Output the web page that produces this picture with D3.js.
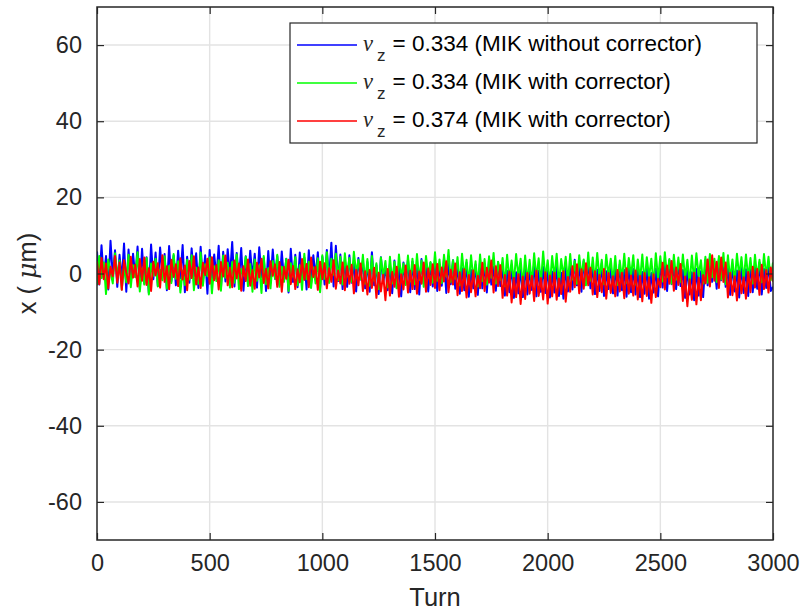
<!DOCTYPE html>
<html>
<head>
<meta charset="utf-8">
<script src="https://cdn.jsdelivr.net/npm/d3@7"></script>
<style>
  html, body { margin: 0; padding: 0; background: #fff; }
  svg { display: block; font-family: "Liberation Sans", Arial, Helvetica, sans-serif; }
</style>
</head>
<body>
<svg id="chart" width="801" height="613"></svg>
<script>
// Horizontal orbit x (um) sampled every 10 turns, turns 0..3000
const turnStep = 10;

const xTicks = [0, 500, 1000, 1500, 2000, 2500, 3000];
const yTicks = [-60, -40, -20, 0, 20, 40, 60];

const seriesNames = [
  { nu: "0.334", note: "(MIK without corrector)" },
  { nu: "0.334", note: "(MIK with corrector)" },
  { nu: "0.374", note: "(MIK with corrector)" }
];
const seriesColors = ["#0000ff", "#00ff00", "#ff0000"];

const blueValues = [
  5.8,-2.9,7.4,-1.3,4.6,-4.2,8.6,-0.6,6.1,-3.5,
  4.9,-1.8,7.9,-4.8,6.3,-2.2,5.2,-0.9,7.1,-3.9,
  6.5,-2.6,4.3,-5.1,7.6,-1.5,5.5,-3.3,6.8,-0.4,
  5.1,-4.4,7.2,-2.0,4.7,-3.1,6.0,-1.2,7.5,-4.9,
  4.4,-2.4,6.6,-0.7,5.3,-3.8,7.0,-1.9,4.8,-5.3,
  6.2,-2.8,5.0,-1.0,7.3,-4.0,5.7,-2.1,6.4,-0.8,
  8.3,-3.4,5.4,-1.6,6.7,-4.5,4.5,-2.3,6.0,-1.1,
  5.2,-3.7,6.9,-0.9,4.1,-4.6,5.9,-2.5,6.3,-1.4,
  4.6,-3.0,5.8,-1.8,3.9,-5.0,6.5,-2.2,4.9,-3.6,
  5.5,-1.5,4.2,-4.2,6.1,-2.7,4.8,-0.8,5.6,-3.9,
  4.4,-2.9,6.2,-1.7,8.1,-3.4,7.3,-2.0,5.0,-4.1,
  3.6,-3.5,4.8,-2.4,2.9,-4.7,4.1,-1.6,3.3,-3.9,
  3.0,-4.8,5.6,-3.1,2.2,-5.4,4.3,-2.5,1.8,-4.4,
  2.5,-5.2,3.4,-3.8,1.6,-6.0,2.9,-2.7,3.6,-4.9,
  3.1,-4.1,2.4,-5.5,3.8,-2.6,1.9,-4.7,2.8,-3.4,
  3.3,-4.6,2.0,-3.2,3.9,-5.1,2.6,-2.8,3.5,-4.0,
  2.1,-5.3,1.4,-4.4,2.8,-6.1,0.9,-3.9,2.3,-5.6,
  3.4,-3.9,2.5,-5.0,3.7,-2.9,1.8,-4.5,3.0,-3.3,
  1.6,-5.8,0.7,-4.9,2.2,-6.4,0.3,-5.2,1.4,-6.2,
  2.0,-5.5,1.1,-4.3,2.6,-6.0,0.8,-4.8,1.7,-5.1,
  1.3,-6.3,0.5,-5.0,2.0,-5.9,0.2,-6.6,1.5,-4.7,
  2.9,-4.2,3.6,-3.1,2.2,-4.8,3.3,-2.6,2.7,-3.9,
  2.1,-5.4,1.0,-4.6,2.7,-5.9,0.6,-4.1,1.8,-5.2,
  1.5,-5.8,2.4,-4.4,0.9,-6.1,2.0,-4.9,1.2,-5.5,
  1.0,-6.2,0.4,-5.3,1.7,-6.6,0.1,-5.0,1.3,-6.0,
  3.2,-3.7,2.4,-4.6,3.5,-2.8,1.9,-4.1,2.8,-3.3,
  0.9,-6.4,1.6,-5.5,0.3,-7.0,1.2,-5.8,0.6,-6.2,
  3.7,-3.1,4.4,-2.2,2.8,-4.0,3.9,-1.8,3.3,-3.5,
  1.4,-5.6,2.2,-4.7,0.8,-6.3,1.9,-5.1,1.1,-5.9,
  2.5,-4.9,1.6,-4.0,2.9,-5.5,1.2,-3.8,2.3,-4.6,
  -3.5
];

const greenValues = [
  -3.1,4.6,-1.2,2.9,-5.4,3.7,0.4,-2.6,5.3,-0.9,
  3.4,-4.2,1.7,-2.3,4.9,-3.6,2.2,-1.0,5.6,-4.7,
  1.3,-2.9,4.1,-5.5,2.6,-0.6,3.9,-3.4,1.0,-1.8,
  4.5,-4.0,2.0,-2.5,5.1,-1.4,3.2,-5.0,0.8,-3.0,
  3.6,-1.6,4.8,-4.4,1.5,-2.7,5.5,-3.2,2.4,-0.7,
  4.2,-5.2,1.9,-2.0,3.5,-4.5,4.7,-1.1,2.8,-3.7,
  3.0,-2.4,5.0,-4.1,1.2,-0.5,4.4,-3.3,2.5,-4.8,
  3.7,-1.9,2.1,-5.1,4.6,-2.8,1.4,-3.9,3.3,-1.3,
  4.9,-3.5,1.8,-2.2,3.8,-4.6,2.7,-0.8,4.3,-3.1,
  2.2,-4.3,5.2,-1.5,3.1,-3.8,1.6,-2.6,4.0,-4.9,
  4.8,-1.4,5.6,-2.5,3.9,-0.3,5.2,-1.8,4.4,-2.9,
  5.3,-0.8,4.1,-2.2,5.7,0.1,3.6,-1.5,4.9,-2.7,
  3.8,-3.2,4.6,-1.9,2.7,-4.1,4.2,-0.9,3.3,-3.6,
  4.4,-2.6,3.1,-3.9,5.0,-1.2,2.6,-3.0,4.7,-2.1,
  3.9,-2.8,5.1,-1.7,3.4,-3.5,4.6,-0.6,3.0,-2.4,
  5.6,-1.9,3.7,-2.5,4.9,-0.7,6.2,-2.2,3.5,-1.4,
  4.3,-3.1,5.2,-1.0,3.6,-2.7,4.8,-1.6,3.2,-3.4,
  5.0,-2.0,3.8,-2.9,4.5,-1.1,5.4,-2.6,3.1,-1.7,
  4.1,-3.3,4.9,-1.8,3.4,-2.5,5.1,-0.9,3.9,-3.6,
  4.7,-2.2,3.6,-3.0,5.3,-1.3,4.0,-2.8,5.8,-1.5,
  3.5,-2.9,4.6,-1.2,5.2,-3.2,3.8,-0.8,4.4,-2.4,
  5.1,-1.6,3.3,-2.7,4.8,-0.9,3.7,-3.1,5.5,-1.9,
  4.2,-2.3,5.4,-1.4,3.6,-2.8,4.9,-0.6,3.9,-2.5,
  4.6,-3.0,3.4,-1.7,5.2,-2.4,4.1,-0.8,4.8,-2.9,
  3.7,-1.8,5.0,-2.6,4.3,-1.1,3.9,-3.2,5.3,-1.5,
  4.5,-2.1,5.6,-0.9,3.8,-2.7,4.9,-1.6,4.2,-2.2,
  5.0,-1.3,3.6,-2.9,4.7,-1.9,5.3,-0.7,3.5,-2.6,
  4.4,-2.4,5.1,-1.0,3.9,-2.2,4.6,-1.6,5.4,-2.8,
  4.8,-1.7,3.7,-2.5,5.2,-0.8,4.3,-2.1,5.0,-1.4,
  4.1,-2.6,4.9,-1.2,3.6,-2.3,5.1,-0.9,4.4,-1.8,
  2.9
];

const redValues = [
  3.2,-2.8,4.1,-1.5,2.6,-3.9,1.8,-0.7,4.6,-2.4,
  2.9,-4.3,3.5,0.2,-2.6,4.4,-1.1,2.3,-3.4,3.8,
  -1.9,4.2,-3.0,1.4,-4.6,3.1,-0.5,2.7,-3.7,4.8,
  -2.2,1.9,-4.1,3.6,-0.9,2.4,-3.3,4.0,-1.6,2.1,
  -4.4,3.3,-1.2,4.5,-2.9,1.6,-3.8,2.8,-0.4,3.9,
  -2.7,4.3,-1.8,2.2,-4.2,3.0,-0.8,4.7,-3.1,1.5,
  -3.6,3.4,-1.3,2.6,-4.5,1.9,-2.0,3.7,-3.2,0.9,
  -4.0,2.8,-1.0,3.9,-2.5,1.2,-3.9,3.2,-0.6,2.4,
  -3.5,3.0,-4.8,1.7,-1.4,3.6,-2.8,2.0,-4.1,1.1,
  -2.3,3.8,-1.7,2.5,-3.6,4.2,-0.9,1.8,-4.3,3.1,
  -1.5,2.7,-3.9,1.4,-2.2,3.5,-4.0,0.8,-2.6,2.9,
  -4.4,1.9,-2.7,2.3,-5.2,1.0,-3.1,2.6,-4.6,0.6,
  -5.5,0.9,-3.8,1.5,-6.4,0.2,-4.7,-0.3,-7.0,1.2,
  -5.8,0.4,-3.5,1.8,-6.1,-0.2,-4.2,2.1,-5.0,0.7,
  -4.1,2.2,-5.3,0.5,-2.7,2.9,-4.8,1.3,-3.0,2.4,
  -3.8,2.5,-4.4,1.6,-2.1,3.2,-4.9,1.0,-2.9,2.6,
  -5.7,0.3,-4.6,1.1,-6.3,-0.4,-4.9,0.8,-6.0,-0.6,
  -3.9,2.8,-4.6,1.5,-2.4,3.4,-5.0,1.9,-3.3,2.2,
  -6.4,-0.4,-5.8,0.5,-7.6,-1.1,-6.2,-0.2,-8.0,-0.8,
  -6.7,0.1,-5.3,-0.6,-7.2,0.8,-5.9,-1.2,-6.8,0.3,
  -7.9,-0.5,-6.0,0.2,-6.9,-1.3,-5.4,0.6,-7.4,-0.9,
  -4.8,1.9,-3.6,2.4,-5.2,1.1,-4.0,2.7,-3.1,1.5,
  -5.5,0.6,-6.2,-0.3,-4.9,1.2,-6.6,0.1,-5.1,-0.7,
  -6.0,0.9,-4.7,0.2,-6.5,1.4,-5.3,-0.5,-5.8,0.8,
  -6.8,-0.6,-7.3,0.1,-5.9,-1.0,-7.7,-0.2,-6.2,-1.4,
  -3.6,2.8,-4.2,2.1,-2.7,3.3,-4.5,1.6,-3.0,2.5,
  -7.2,-0.8,-8.6,-1.5,-6.9,0.2,-8.1,-1.1,-7.0,-0.4,
  -2.6,3.7,-3.4,4.8,-1.9,3.1,-3.8,4.2,-2.2,2.9,
  -6.3,0.2,-5.7,-0.7,-7.1,0.6,-5.2,-1.0,-6.6,0.4,
  -4.9,1.8,-3.7,1.2,-5.6,2.3,-4.1,0.9,-5.0,1.6,
  -2.1
];

const seriesValues = [blueValues, greenValues, redValues];

// Layout
const margin = { left: 97, right: 28, top: 7, bottom: 73 };
const W = 801, H = 613;
const axisColor = "#262626";
const gridColor = "#e3e3e3";
const tickFont = 23.5;

const svg = d3.select("#chart");
const x = d3.scaleLinear().domain([0, 3000]).range([margin.left, W - margin.right]);
const y = d3.scaleLinear().domain([-70, 70]).range([H - margin.bottom, margin.top]);

const x0 = x.range()[0], x1 = x.range()[1];
const yTop = y.range()[1], yBot = y.range()[0];

// Grid lines
const grid = svg.append("g").attr("class", "grid");
grid.selectAll("line.gx").data(xTicks.slice(1, -1)).join("line")
  .attr("x1", d => x(d)).attr("x2", d => x(d))
  .attr("y1", yTop).attr("y2", yBot)
  .attr("stroke", gridColor).attr("stroke-width", 1.4);
grid.selectAll("line.gy").data(yTicks).join("line")
  .attr("x1", x0).attr("x2", x1)
  .attr("y1", d => y(d)).attr("y2", d => y(d))
  .attr("stroke", gridColor).attr("stroke-width", 1.4);

// Series lines
svg.append("clipPath").attr("id", "plotclip")
  .append("rect").attr("x", x0).attr("y", yTop).attr("width", x1 - x0).attr("height", yBot - yTop);

const line = d3.line()
  .x((d, i) => x(i * turnStep))
  .y(d => y(d));

svg.append("g").attr("clip-path", "url(#plotclip)")
  .selectAll("path").data(seriesValues).join("path")
  .attr("d", d => line(d))
  .attr("fill", "none")
  .attr("stroke", (d, i) => seriesColors[i])
  .attr("stroke-width", 2)
  .attr("stroke-linejoin", "round");

// Axes with inward ticks on all four sides
const tickLen = 7;
const fmt = d => String(d);
const axB = svg.append("g").attr("transform", `translate(0,${yBot})`)
  .call(d3.axisBottom(x).tickValues(xTicks).tickSizeInner(-tickLen).tickSizeOuter(0).tickPadding(14).tickFormat(fmt));
const axT = svg.append("g").attr("transform", `translate(0,${yTop})`)
  .call(d3.axisTop(x).tickValues(xTicks).tickSizeInner(-tickLen).tickSizeOuter(0).tickFormat(""));
const axL = svg.append("g").attr("transform", `translate(${x0},0)`)
  .call(d3.axisLeft(y).tickValues(yTicks).tickSizeInner(-tickLen).tickSizeOuter(0).tickPadding(15).tickFormat(fmt));
const axR = svg.append("g").attr("transform", `translate(${x1},0)`)
  .call(d3.axisRight(y).tickValues(yTicks).tickSizeInner(-tickLen).tickSizeOuter(0).tickFormat(""));

[axB, axT, axL, axR].forEach(g => {
  g.select(".domain").remove();
  g.selectAll(".tick line").attr("stroke", axisColor).attr("stroke-width", 1.2);
  g.selectAll(".tick text")
    .attr("fill", axisColor)
    .attr("font-family", "'Liberation Sans', Arial, Helvetica, sans-serif")
    .attr("font-size", tickFont);
});

// Box
svg.append("rect")
  .attr("x", x0).attr("y", yTop).attr("width", x1 - x0).attr("height", yBot - yTop)
  .attr("fill", "none").attr("stroke", axisColor).attr("stroke-width", 1.5);

// Axis titles
svg.append("text")
  .attr("x", (x0 + x1) / 2).attr("y", 606)
  .attr("text-anchor", "middle")
  .attr("font-size", 25.5).attr("fill", axisColor)
  .text("Turn");

const yTitle = svg.append("text")
  .attr("transform", `translate(36,${(yTop + yBot) / 2}) rotate(-90)`)
  .attr("text-anchor", "middle")
  .attr("font-size", 25.5).attr("fill", axisColor);
yTitle.append("tspan").text("x ( ");
yTitle.append("tspan").attr("font-style", "italic").attr("font-family", "'DejaVu Serif', 'Liberation Serif', serif").text("μ");
yTitle.append("tspan").text("m)");

// Legend
const lg = svg.append("g").attr("class", "legend");
lg.append("rect")
  .attr("x", 290).attr("y", 23).attr("width", 467).attr("height", 120)
  .attr("fill", "#fff").attr("stroke", axisColor).attr("stroke-width", 1.2);

const rowY = [45, 83, 121];
seriesNames.forEach((s, i) => {
  const yy = rowY[i];
  lg.append("line")
    .attr("x1", 297).attr("x2", 357).attr("y1", yy).attr("y2", yy)
    .attr("stroke", seriesColors[i]).attr("stroke-width", 1.5);
  const t = lg.append("text")
    .attr("x", 363).attr("y", yy + 6)
    .attr("font-size", 22.5).attr("fill", "#000");
  t.append("tspan").attr("font-style", "italic")
    .attr("font-family", "'Liberation Serif', 'DejaVu Serif', serif")
    .attr("font-size", 22.5).attr("fill", axisColor).text("ν");
  t.append("tspan").attr("dy", 10).attr("dx", 4).attr("font-size", 17).attr("fill", axisColor).text("z");
  t.append("tspan").attr("dy", -10).attr("dx", 7).text("= " + s.nu + " " + s.note);
});
</script>
</body>
</html>
